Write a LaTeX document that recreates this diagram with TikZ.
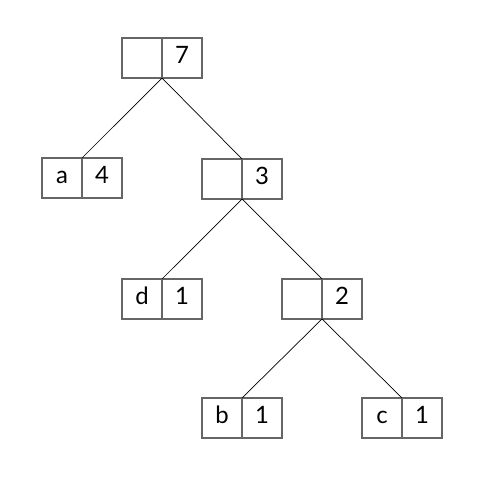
\documentclass[tikz,border=0pt]{standalone}
\usepackage{fontspec}
\setmainfont{Lato}
\usetikzlibrary{positioning}

\begin{document}
\begin{tikzpicture}[x=0.025cm,y=-0.025cm,cell/.style={rectangle,draw=black!60,line width=0.9pt,minimum size=1cm,outer sep=0pt,inner sep=0pt,text height=0.72em,text depth=0pt,font=\fontsize{17}{20}\selectfont},edge/.style={black,line width=0.5pt}]
        \useasboundingbox (0,0) rectangle (480,478);
        \foreach \n/\x/\y/\l/\r in {r/142/58/{}/7,a/62/178/a/4,t/222/179/{}/3,d/142/299/d/1,s/302/299/{}/2,b/222/418/b/1,c/382/418/c/1}{
            \node[cell] (\n L) at (\x,\y) {\l};
            \node[cell,right=0pt of \n L] (\n R) {\r};
        }
        \draw[edge] (rL.south east) -- (aL.north east);
        \draw[edge] (rL.south east) -- (tL.north east);
        \draw[edge] (tL.south east) -- (dL.north east);
        \draw[edge] (tL.south east) -- (sL.north east);
        \draw[edge] (sL.south east) -- (bL.north east);
        \draw[edge] (sL.south east) -- (cL.north east);
    \end{tikzpicture}
\end{document}
